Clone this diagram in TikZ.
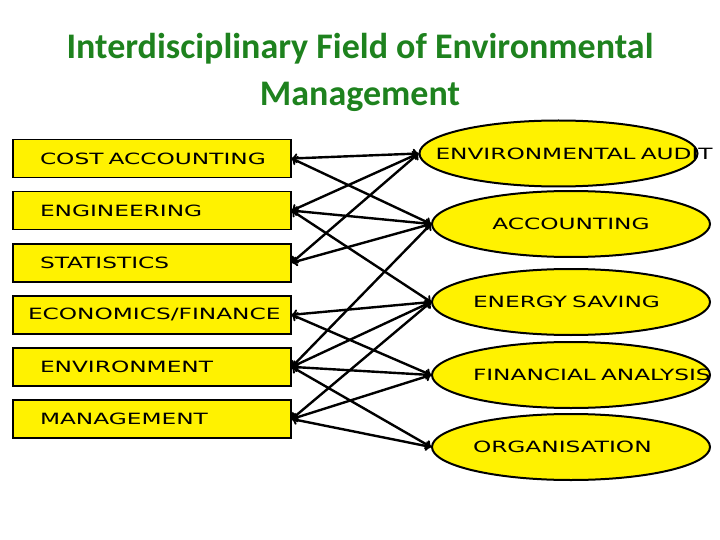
\documentclass[tikz,border=0pt]{standalone}
\usepackage{fontspec}
\usepackage{tikz}
\usetikzlibrary{shapes.geometric,positioning}
\newfontfamily\boxfont[FakeStretch=1.5]{DejaVu Sans}
\newfontfamily\titlefont{Carlito}
\definecolor{titlegreen}{RGB}{30,130,30}
\tikzset{
  heading/.style={ % two line title on top
    inner sep=0pt, align=center, text=titlegreen,
    font=\titlefont\bfseries\fontsize{36}{47}\selectfont
  },
  field/.style={ % a discipline box on the left
    draw, rectangle, line width=1.6pt, fill=yellow,
    minimum width=278pt, minimum height=38pt,
    inner sep=0pt, text width=224pt, align=left, text=black,
    font=\boxfont\fontsize{15.5}{18}\selectfont
  },
  topic/.style={ % an oval on the right
    draw, ellipse, line width=2pt, fill=yellow,
    minimum width=278pt, minimum height=66pt,
    inner sep=0pt, text width=196pt, align=left, text=black,
    font=\boxfont\fontsize{15.5}{18}\selectfont
  },
  link/.style={<->, >=to, line width=2.4pt}
}
\begin{document}
\begin{tikzpicture}[x=1pt,y=-1pt]
  \useasboundingbox (0,0) rectangle (720,540);

  \node[heading] (head) at (360,72) {Interdisciplinary Field of Environmental\\Management};

  % disciplines
  \node[field] (cost) at (152,158.5) {\mbox{COST ACCOUNTING}};
  \node[field,below=12.5pt of cost] (eng) {ENGINEERING};
  \node[field,below=12.5pt of eng] (stat) {STATISTICS};
  \node[field,below=12.5pt of stat] (econ) {\hspace*{-12pt}\mbox{ECONOMICS/FINANCE}};
  \node[field,below=12.5pt of econ] (envir) {ENVIRONMENT};
  \node[field,below=12.5pt of envir] (mgmt) {MANAGEMENT};

  % fields of work
  \node[topic] (audit) at (558.5,153.5) {\hspace*{-25pt}\mbox{ENVIRONMENTAL AUDIT}};
  \node[topic,align=center] (acct) at (571,224) {ACCOUNTING};
  \node[topic] (energy) at (571,302) {\mbox{ENERGY SAVING}};
  \node[topic] (fin) at (571,375) {\mbox{FINANCIAL ANALYSIS}};
  \node[topic] (org) at (571,447) {ORGANISATION};

  \foreach \from/\to in {cost/audit, cost/acct,
      eng/audit, eng/acct, eng/energy,
      stat/audit, stat/acct,
      econ/energy, econ/fin,
      envir/acct, envir/energy, envir/fin, envir/org,
      mgmt/energy, mgmt/fin, mgmt/org}
    \draw[link] (\from.east) -- (\to.west);
\end{tikzpicture}
\end{document}
